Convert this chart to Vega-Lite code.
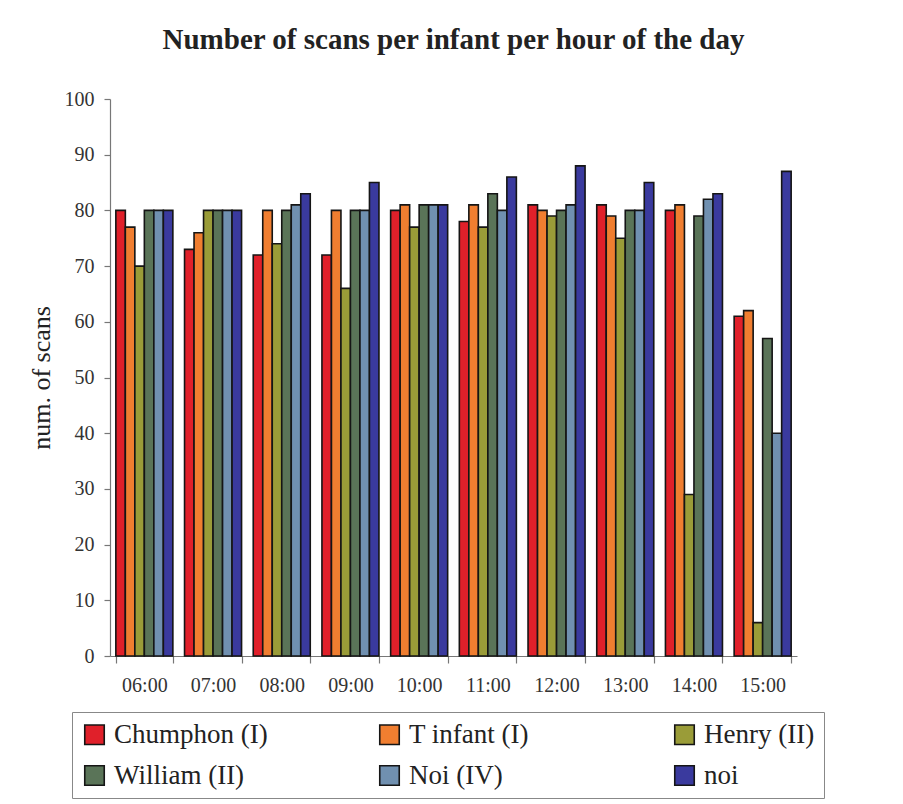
{
  "$schema": "https://vega.github.io/schema/vega-lite/v6.json",
  "autosize": "none",
  "width": 687,
  "height": 557,
  "padding": {"left": 110, "top": 99, "right": 106, "bottom": 148},
  "background": "white",
  "title": {
    "text": "Number of scans per infant per hour of the day",
    "font": "Liberation Serif",
    "fontSize": 29,
    "fontWeight": "bold",
    "color": "#222222",
    "anchor": "middle",
    "offset": 34
  },
  "data": {
    "values": [
      {"hour": "06:00", "infant": "Chumphon (I)", "scans": 80},
      {"hour": "06:00", "infant": "T infant (I)", "scans": 77},
      {"hour": "06:00", "infant": "Henry (II)", "scans": 70},
      {"hour": "06:00", "infant": "William (II)", "scans": 80},
      {"hour": "06:00", "infant": "Noi (IV)", "scans": 80},
      {"hour": "06:00", "infant": "noi", "scans": 80},
      {"hour": "07:00", "infant": "Chumphon (I)", "scans": 73},
      {"hour": "07:00", "infant": "T infant (I)", "scans": 76},
      {"hour": "07:00", "infant": "Henry (II)", "scans": 80},
      {"hour": "07:00", "infant": "William (II)", "scans": 80},
      {"hour": "07:00", "infant": "Noi (IV)", "scans": 80},
      {"hour": "07:00", "infant": "noi", "scans": 80},
      {"hour": "08:00", "infant": "Chumphon (I)", "scans": 72},
      {"hour": "08:00", "infant": "T infant (I)", "scans": 80},
      {"hour": "08:00", "infant": "Henry (II)", "scans": 74},
      {"hour": "08:00", "infant": "William (II)", "scans": 80},
      {"hour": "08:00", "infant": "Noi (IV)", "scans": 81},
      {"hour": "08:00", "infant": "noi", "scans": 83},
      {"hour": "09:00", "infant": "Chumphon (I)", "scans": 72},
      {"hour": "09:00", "infant": "T infant (I)", "scans": 80},
      {"hour": "09:00", "infant": "Henry (II)", "scans": 66},
      {"hour": "09:00", "infant": "William (II)", "scans": 80},
      {"hour": "09:00", "infant": "Noi (IV)", "scans": 80},
      {"hour": "09:00", "infant": "noi", "scans": 85},
      {"hour": "10:00", "infant": "Chumphon (I)", "scans": 80},
      {"hour": "10:00", "infant": "T infant (I)", "scans": 81},
      {"hour": "10:00", "infant": "Henry (II)", "scans": 77},
      {"hour": "10:00", "infant": "William (II)", "scans": 81},
      {"hour": "10:00", "infant": "Noi (IV)", "scans": 81},
      {"hour": "10:00", "infant": "noi", "scans": 81},
      {"hour": "11:00", "infant": "Chumphon (I)", "scans": 78},
      {"hour": "11:00", "infant": "T infant (I)", "scans": 81},
      {"hour": "11:00", "infant": "Henry (II)", "scans": 77},
      {"hour": "11:00", "infant": "William (II)", "scans": 83},
      {"hour": "11:00", "infant": "Noi (IV)", "scans": 80},
      {"hour": "11:00", "infant": "noi", "scans": 86},
      {"hour": "12:00", "infant": "Chumphon (I)", "scans": 81},
      {"hour": "12:00", "infant": "T infant (I)", "scans": 80},
      {"hour": "12:00", "infant": "Henry (II)", "scans": 79},
      {"hour": "12:00", "infant": "William (II)", "scans": 80},
      {"hour": "12:00", "infant": "Noi (IV)", "scans": 81},
      {"hour": "12:00", "infant": "noi", "scans": 88},
      {"hour": "13:00", "infant": "Chumphon (I)", "scans": 81},
      {"hour": "13:00", "infant": "T infant (I)", "scans": 79},
      {"hour": "13:00", "infant": "Henry (II)", "scans": 75},
      {"hour": "13:00", "infant": "William (II)", "scans": 80},
      {"hour": "13:00", "infant": "Noi (IV)", "scans": 80},
      {"hour": "13:00", "infant": "noi", "scans": 85},
      {"hour": "14:00", "infant": "Chumphon (I)", "scans": 80},
      {"hour": "14:00", "infant": "T infant (I)", "scans": 81},
      {"hour": "14:00", "infant": "Henry (II)", "scans": 29},
      {"hour": "14:00", "infant": "William (II)", "scans": 79},
      {"hour": "14:00", "infant": "Noi (IV)", "scans": 82},
      {"hour": "14:00", "infant": "noi", "scans": 83},
      {"hour": "15:00", "infant": "Chumphon (I)", "scans": 61},
      {"hour": "15:00", "infant": "T infant (I)", "scans": 62},
      {"hour": "15:00", "infant": "Henry (II)", "scans": 6},
      {"hour": "15:00", "infant": "William (II)", "scans": 57},
      {"hour": "15:00", "infant": "Noi (IV)", "scans": 40},
      {"hour": "15:00", "infant": "noi", "scans": 87}
    ]
  },
  "mark": {"type": "bar", "stroke": "#151515", "strokeWidth": 1.6},
  "encoding": {
    "x": {
      "field": "hour",
      "type": "nominal",
      "sort": null,
      "scale": {"paddingInner": 0.17, "paddingOuter": 0.085},
      "axis": {
        "title": null,
        "labelAngle": 0,
        "tickBand": "extent",
        "labelFont": "Liberation Serif",
        "labelFontSize": 20,
        "labelColor": "#333333",
        "labelPadding": 12,
        "tickSize": 7,
        "tickColor": "#777777",
        "domainColor": "#777777",
        "domainWidth": 1.2,
        "tickWidth": 1.2
      }
    },
    "xOffset": {
      "field": "infant",
      "type": "nominal",
      "sort": ["Chumphon (I)", "T infant (I)", "Henry (II)", "William (II)", "Noi (IV)", "noi"],
      "scale": {"paddingInner": 0, "paddingOuter": 0}
    },
    "y": {
      "field": "scans",
      "type": "quantitative",
      "scale": {"domain": [0, 100], "nice": false},
      "axis": {
        "title": "num. of scans",
        "titleFont": "Liberation Serif",
        "titleFontSize": 26,
        "titleFontWeight": "normal",
        "titleColor": "#222222",
        "titlePadding": 10,
        "values": [0, 10, 20, 30, 40, 50, 60, 70, 80, 90, 100],
        "grid": false,
        "labelFont": "Liberation Serif",
        "labelFontSize": 20,
        "labelColor": "#333333",
        "labelPadding": 10,
        "tickSize": 6,
        "tickColor": "#777777",
        "domainColor": "#777777",
        "domainWidth": 1.2,
        "tickWidth": 1.2
      }
    },
    "color": {
      "field": "infant",
      "type": "nominal",
      "sort": ["Chumphon (I)", "T infant (I)", "Henry (II)", "William (II)", "Noi (IV)", "noi"],
      "scale": {
        "domain": ["Chumphon (I)", "T infant (I)", "Henry (II)", "William (II)", "Noi (IV)", "noi"],
        "range": ["#e0202a", "#f07e30", "#9a9c38", "#5a7458", "#7090b0", "#3a3a9e"]
      },
      "legend": {
        "title": null,
        "orient": "none",
        "legendX": -38,
        "legendY": 613,
        "direction": "horizontal",
        "columns": 3,
        "gridAlign": "all",
        "columnPadding": 108,
        "rowPadding": 13,
        "padding": 9,
        "strokeColor": "#888888",
        "symbolType": "square",
        "symbolSize": 380,
        "symbolStrokeColor": "#151515",
        "symbolStrokeWidth": 1.6,
        "symbolOpacity": 1,
        "labelFont": "Liberation Serif",
        "labelFontSize": 27,
        "labelColor": "#222222",
        "labelOffset": 6,
        "labelLimit": 300
      }
    }
  },
  "config": {
    "view": {"stroke": null}
  }
}
